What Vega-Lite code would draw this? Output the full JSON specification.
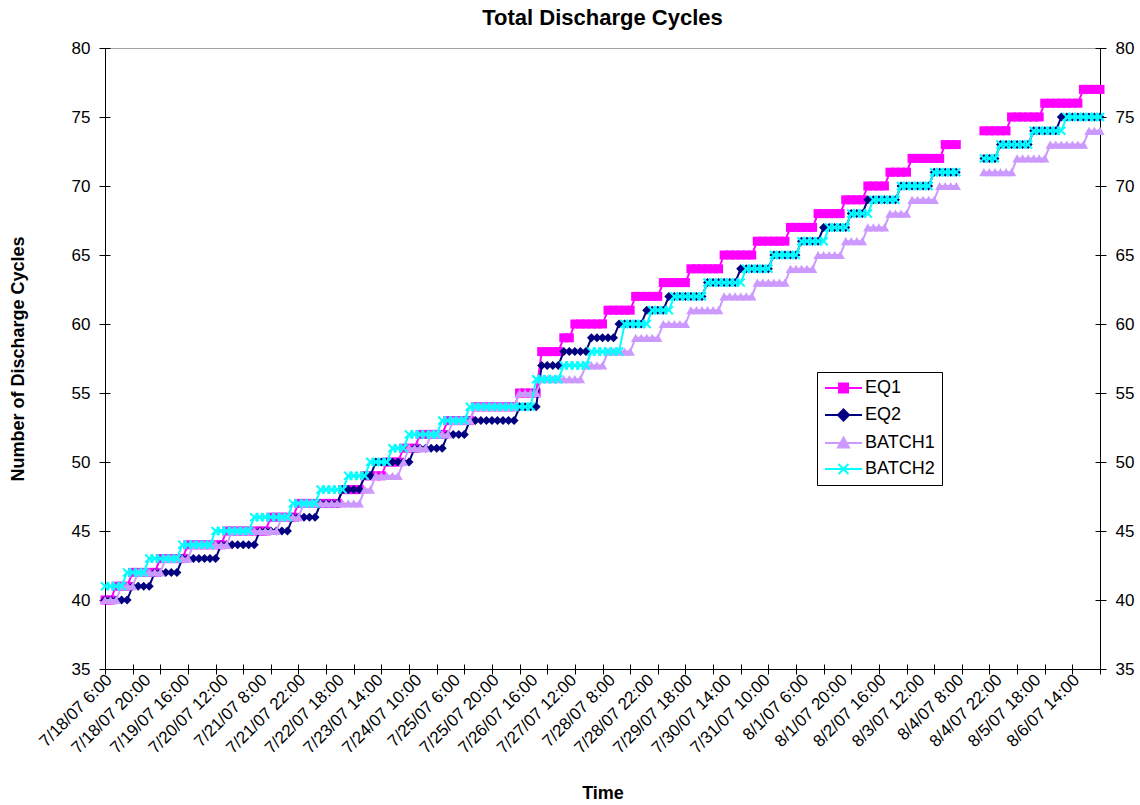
{
  "$schema": "https://vega.github.io/schema/vega-lite/v6.json",
  "width": 995,
  "height": 621,
  "autosize": {"type": "none"},
  "padding": {"left": 105, "top": 48, "right": 40, "bottom": 136},
  "background": "white",
  "title": {"text": "Total Discharge Cycles", "font": "Liberation Sans", "fontSize": 22, "fontWeight": "bold", "color": "#000", "anchor": "middle", "frame": "group", "offset": 9},
  "config": {
    "font": "Liberation Sans",
    "view": {"stroke": "#a0a0a0", "strokeWidth": 1},
    "mark": {"invalid": "break-paths-show-domains"},
    "axis": {"grid": false, "domainColor": "#000", "tickColor": "#000", "labelColor": "#000", "titleColor": "#000", "labelFont": "Liberation Sans", "titleFont": "Liberation Sans", "labelFontSize": 17, "titleFontSize": 18, "titleFontWeight": "bold", "domainWidth": 1, "tickWidth": 1},
    "legend": {"labelFont": "Liberation Sans", "labelFontSize": 18, "labelColor": "#000"}
  },
  "data": {"values": [
    {"t": "7/18/07 6:00", "EQ1": 40, "EQ2": 40, "BATCH1": 40, "BATCH2": 41},
    {"t": "7/18/07 8:00", "EQ1": 40, "EQ2": 40, "BATCH1": 40, "BATCH2": 41},
    {"t": "7/18/07 10:00", "EQ1": 41, "EQ2": 40, "BATCH1": 40, "BATCH2": 41},
    {"t": "7/18/07 12:00", "EQ1": 41, "EQ2": 40, "BATCH1": 41, "BATCH2": 41},
    {"t": "7/18/07 14:00", "EQ1": 41, "EQ2": 40, "BATCH1": 41, "BATCH2": 42},
    {"t": "7/18/07 16:00", "EQ1": 42, "EQ2": 41, "BATCH1": 41, "BATCH2": 42},
    {"t": "7/18/07 18:00", "EQ1": 42, "EQ2": 41, "BATCH1": 42, "BATCH2": 42},
    {"t": "7/18/07 20:00", "EQ1": 42, "EQ2": 41, "BATCH1": 42, "BATCH2": 42},
    {"t": "7/18/07 23:00", "EQ1": 42, "EQ2": 41, "BATCH1": 42, "BATCH2": 43},
    {"t": "7/19/07 2:00", "EQ1": 42, "EQ2": 42, "BATCH1": 42, "BATCH2": 43},
    {"t": "7/19/07 5:00", "EQ1": 43, "EQ2": 42, "BATCH1": 42, "BATCH2": 43},
    {"t": "7/19/07 8:00", "EQ1": 43, "EQ2": 42, "BATCH1": 43, "BATCH2": 43},
    {"t": "7/19/07 11:00", "EQ1": 43, "EQ2": 42, "BATCH1": 43, "BATCH2": 43},
    {"t": "7/19/07 14:00", "EQ1": 43, "EQ2": 42, "BATCH1": 43, "BATCH2": 43},
    {"t": "7/19/07 16:00", "EQ1": 43, "EQ2": 43, "BATCH1": 43, "BATCH2": 44},
    {"t": "7/19/07 19:00", "EQ1": 44, "EQ2": 43, "BATCH1": 43, "BATCH2": 44},
    {"t": "7/19/07 22:00", "EQ1": 44, "EQ2": 43, "BATCH1": 44, "BATCH2": 44},
    {"t": "7/20/07 1:00", "EQ1": 44, "EQ2": 43, "BATCH1": 44, "BATCH2": 44},
    {"t": "7/20/07 4:00", "EQ1": 44, "EQ2": 43, "BATCH1": 44, "BATCH2": 44},
    {"t": "7/20/07 7:00", "EQ1": 44, "EQ2": 43, "BATCH1": 44, "BATCH2": 44},
    {"t": "7/20/07 10:00", "EQ1": 44, "EQ2": 43, "BATCH1": 44, "BATCH2": 45},
    {"t": "7/20/07 12:00", "EQ1": 44, "EQ2": 44, "BATCH1": 44, "BATCH2": 45},
    {"t": "7/20/07 15:00", "EQ1": 45, "EQ2": 44, "BATCH1": 44, "BATCH2": 45},
    {"t": "7/20/07 18:00", "EQ1": 45, "EQ2": 44, "BATCH1": 45, "BATCH2": 45},
    {"t": "7/20/07 21:00", "EQ1": 45, "EQ2": 44, "BATCH1": 45, "BATCH2": 45},
    {"t": "7/21/07 0:00", "EQ1": 45, "EQ2": 44, "BATCH1": 45, "BATCH2": 45},
    {"t": "7/21/07 3:00", "EQ1": 45, "EQ2": 44, "BATCH1": 45, "BATCH2": 45},
    {"t": "7/21/07 6:00", "EQ1": 45, "EQ2": 44, "BATCH1": 45, "BATCH2": 46},
    {"t": "7/21/07 8:00", "EQ1": 45, "EQ2": 45, "BATCH1": 45, "BATCH2": 46},
    {"t": "7/21/07 10:00", "EQ1": 45, "EQ2": 45, "BATCH1": 45, "BATCH2": 46},
    {"t": "7/21/07 12:00", "EQ1": 46, "EQ2": 45, "BATCH1": 45, "BATCH2": 46},
    {"t": "7/21/07 14:00", "EQ1": 46, "EQ2": 45, "BATCH1": 45, "BATCH2": 46},
    {"t": "7/21/07 16:00", "EQ1": 46, "EQ2": 45, "BATCH1": 46, "BATCH2": 46},
    {"t": "7/21/07 18:00", "EQ1": 46, "EQ2": 45, "BATCH1": 46, "BATCH2": 46},
    {"t": "7/21/07 20:00", "EQ1": 46, "EQ2": 46, "BATCH1": 46, "BATCH2": 47},
    {"t": "7/21/07 22:00", "EQ1": 47, "EQ2": 46, "BATCH1": 46, "BATCH2": 47},
    {"t": "7/22/07 1:00", "EQ1": 47, "EQ2": 46, "BATCH1": 47, "BATCH2": 47},
    {"t": "7/22/07 4:00", "EQ1": 47, "EQ2": 46, "BATCH1": 47, "BATCH2": 47},
    {"t": "7/22/07 7:00", "EQ1": 47, "EQ2": 46, "BATCH1": 47, "BATCH2": 47},
    {"t": "7/22/07 10:00", "EQ1": 47, "EQ2": 47, "BATCH1": 47, "BATCH2": 48},
    {"t": "7/22/07 13:00", "EQ1": 47, "EQ2": 47, "BATCH1": 47, "BATCH2": 48},
    {"t": "7/22/07 16:00", "EQ1": 47, "EQ2": 47, "BATCH1": 47, "BATCH2": 48},
    {"t": "7/22/07 18:00", "EQ1": 47, "EQ2": 47, "BATCH1": 47, "BATCH2": 48},
    {"t": "7/22/07 21:00", "EQ1": 48, "EQ2": 48, "BATCH1": 47, "BATCH2": 48},
    {"t": "7/23/07 0:00", "EQ1": 48, "EQ2": 48, "BATCH1": 47, "BATCH2": 49},
    {"t": "7/23/07 3:00", "EQ1": 48, "EQ2": 48, "BATCH1": 47, "BATCH2": 49},
    {"t": "7/23/07 6:00", "EQ1": 48, "EQ2": 48, "BATCH1": 47, "BATCH2": 49},
    {"t": "7/23/07 9:00", "EQ1": 49, "EQ2": 49, "BATCH1": 48, "BATCH2": 49},
    {"t": "7/23/07 12:00", "EQ1": 49, "EQ2": 49, "BATCH1": 48, "BATCH2": 50},
    {"t": "7/23/07 14:00", "EQ1": 49, "EQ2": 50, "BATCH1": 49, "BATCH2": 50},
    {"t": "7/23/07 17:00", "EQ1": 49, "EQ2": 50, "BATCH1": 49, "BATCH2": 50},
    {"t": "7/23/07 20:00", "EQ1": 50, "EQ2": 50, "BATCH1": 49, "BATCH2": 50},
    {"t": "7/23/07 23:00", "EQ1": 50, "EQ2": 50, "BATCH1": 49, "BATCH2": 51},
    {"t": "7/24/07 2:00", "EQ1": 50, "EQ2": 50, "BATCH1": 49, "BATCH2": 51},
    {"t": "7/24/07 5:00", "EQ1": 51, "EQ2": 50, "BATCH1": 50, "BATCH2": 51},
    {"t": "7/24/07 8:00", "EQ1": 51, "EQ2": 50, "BATCH1": 51, "BATCH2": 52},
    {"t": "7/24/07 10:00", "EQ1": 51, "EQ2": 51, "BATCH1": 51, "BATCH2": 52},
    {"t": "7/24/07 13:00", "EQ1": 52, "EQ2": 51, "BATCH1": 51, "BATCH2": 52},
    {"t": "7/24/07 16:00", "EQ1": 52, "EQ2": 51, "BATCH1": 51, "BATCH2": 52},
    {"t": "7/24/07 19:00", "EQ1": 52, "EQ2": 51, "BATCH1": 52, "BATCH2": 52},
    {"t": "7/24/07 22:00", "EQ1": 52, "EQ2": 51, "BATCH1": 52, "BATCH2": 52},
    {"t": "7/25/07 1:00", "EQ1": 52, "EQ2": 51, "BATCH1": 52, "BATCH2": 53},
    {"t": "7/25/07 4:00", "EQ1": 53, "EQ2": 52, "BATCH1": 52, "BATCH2": 53},
    {"t": "7/25/07 6:00", "EQ1": 53, "EQ2": 52, "BATCH1": 53, "BATCH2": 53},
    {"t": "7/25/07 8:00", "EQ1": 53, "EQ2": 52, "BATCH1": 53, "BATCH2": 53},
    {"t": "7/25/07 10:00", "EQ1": 53, "EQ2": 52, "BATCH1": 53, "BATCH2": 53},
    {"t": "7/25/07 12:00", "EQ1": 53, "EQ2": 53, "BATCH1": 53, "BATCH2": 54},
    {"t": "7/25/07 14:00", "EQ1": 54, "EQ2": 53, "BATCH1": 54, "BATCH2": 54},
    {"t": "7/25/07 16:00", "EQ1": 54, "EQ2": 53, "BATCH1": 54, "BATCH2": 54},
    {"t": "7/25/07 18:00", "EQ1": 54, "EQ2": 53, "BATCH1": 54, "BATCH2": 54},
    {"t": "7/25/07 20:00", "EQ1": 54, "EQ2": 53, "BATCH1": 54, "BATCH2": 54},
    {"t": "7/25/07 23:00", "EQ1": 54, "EQ2": 53, "BATCH1": 54, "BATCH2": 54},
    {"t": "7/26/07 2:00", "EQ1": 54, "EQ2": 53, "BATCH1": 54, "BATCH2": 54},
    {"t": "7/26/07 5:00", "EQ1": 54, "EQ2": 53, "BATCH1": 54, "BATCH2": 54},
    {"t": "7/26/07 8:00", "EQ1": 54, "EQ2": 53, "BATCH1": 54, "BATCH2": 54},
    {"t": "7/26/07 11:00", "EQ1": 55, "EQ2": 54, "BATCH1": 55, "BATCH2": 54},
    {"t": "7/26/07 14:00", "EQ1": 55, "EQ2": 54, "BATCH1": 55, "BATCH2": 54},
    {"t": "7/26/07 16:00", "EQ1": 55, "EQ2": 54, "BATCH1": 55, "BATCH2": 54},
    {"t": "7/26/07 19:00", "EQ1": 55, "EQ2": 54, "BATCH1": 55, "BATCH2": 56},
    {"t": "7/26/07 22:00", "EQ1": 58, "EQ2": 57, "BATCH1": 56, "BATCH2": 56},
    {"t": "7/27/07 1:00", "EQ1": 58, "EQ2": 57, "BATCH1": 56, "BATCH2": 56},
    {"t": "7/27/07 4:00", "EQ1": 58, "EQ2": 57, "BATCH1": 56, "BATCH2": 56},
    {"t": "7/27/07 7:00", "EQ1": 58, "EQ2": 57, "BATCH1": 56, "BATCH2": 56},
    {"t": "7/27/07 10:00", "EQ1": 59, "EQ2": 58, "BATCH1": 56, "BATCH2": 57},
    {"t": "7/27/07 12:00", "EQ1": 59, "EQ2": 58, "BATCH1": 56, "BATCH2": 57},
    {"t": "7/27/07 15:00", "EQ1": 60, "EQ2": 58, "BATCH1": 56, "BATCH2": 57},
    {"t": "7/27/07 18:00", "EQ1": 60, "EQ2": 58, "BATCH1": 56, "BATCH2": 57},
    {"t": "7/27/07 21:00", "EQ1": 60, "EQ2": 58, "BATCH1": 57, "BATCH2": 57},
    {"t": "7/28/07 0:00", "EQ1": 60, "EQ2": 59, "BATCH1": 57, "BATCH2": 58},
    {"t": "7/28/07 3:00", "EQ1": 60, "EQ2": 59, "BATCH1": 57, "BATCH2": 58},
    {"t": "7/28/07 6:00", "EQ1": 60, "EQ2": 59, "BATCH1": 57, "BATCH2": 58},
    {"t": "7/28/07 8:00", "EQ1": 61, "EQ2": 59, "BATCH1": 58, "BATCH2": 58},
    {"t": "7/28/07 10:00", "EQ1": 61, "EQ2": 59, "BATCH1": 58, "BATCH2": 58},
    {"t": "7/28/07 12:00", "EQ1": 61, "EQ2": 60, "BATCH1": 58, "BATCH2": 58},
    {"t": "7/28/07 14:00", "EQ1": 61, "EQ2": 60, "BATCH1": 58, "BATCH2": 60},
    {"t": "7/28/07 16:00", "EQ1": 61, "EQ2": 60, "BATCH1": 58, "BATCH2": 60},
    {"t": "7/28/07 18:00", "EQ1": 62, "EQ2": 60, "BATCH1": 59, "BATCH2": 60},
    {"t": "7/28/07 20:00", "EQ1": 62, "EQ2": 60, "BATCH1": 59, "BATCH2": 60},
    {"t": "7/28/07 22:00", "EQ1": 62, "EQ2": 61, "BATCH1": 59, "BATCH2": 60},
    {"t": "7/29/07 1:00", "EQ1": 62, "EQ2": 61, "BATCH1": 59, "BATCH2": 61},
    {"t": "7/29/07 4:00", "EQ1": 62, "EQ2": 61, "BATCH1": 59, "BATCH2": 61},
    {"t": "7/29/07 7:00", "EQ1": 63, "EQ2": 61, "BATCH1": 60, "BATCH2": 61},
    {"t": "7/29/07 10:00", "EQ1": 63, "EQ2": 62, "BATCH1": 60, "BATCH2": 61},
    {"t": "7/29/07 13:00", "EQ1": 63, "EQ2": 62, "BATCH1": 60, "BATCH2": 62},
    {"t": "7/29/07 16:00", "EQ1": 63, "EQ2": 62, "BATCH1": 60, "BATCH2": 62},
    {"t": "7/29/07 18:00", "EQ1": 63, "EQ2": 62, "BATCH1": 60, "BATCH2": 62},
    {"t": "7/29/07 21:00", "EQ1": 64, "EQ2": 62, "BATCH1": 61, "BATCH2": 62},
    {"t": "7/30/07 0:00", "EQ1": 64, "EQ2": 62, "BATCH1": 61, "BATCH2": 62},
    {"t": "7/30/07 3:00", "EQ1": 64, "EQ2": 62, "BATCH1": 61, "BATCH2": 62},
    {"t": "7/30/07 6:00", "EQ1": 64, "EQ2": 63, "BATCH1": 61, "BATCH2": 63},
    {"t": "7/30/07 9:00", "EQ1": 64, "EQ2": 63, "BATCH1": 61, "BATCH2": 63},
    {"t": "7/30/07 12:00", "EQ1": 64, "EQ2": 63, "BATCH1": 61, "BATCH2": 63},
    {"t": "7/30/07 14:00", "EQ1": 65, "EQ2": 63, "BATCH1": 62, "BATCH2": 63},
    {"t": "7/30/07 17:00", "EQ1": 65, "EQ2": 63, "BATCH1": 62, "BATCH2": 63},
    {"t": "7/30/07 20:00", "EQ1": 65, "EQ2": 63, "BATCH1": 62, "BATCH2": 63},
    {"t": "7/30/07 23:00", "EQ1": 65, "EQ2": 64, "BATCH1": 62, "BATCH2": 63},
    {"t": "7/31/07 2:00", "EQ1": 65, "EQ2": 64, "BATCH1": 62, "BATCH2": 64},
    {"t": "7/31/07 5:00", "EQ1": 65, "EQ2": 64, "BATCH1": 62, "BATCH2": 64},
    {"t": "7/31/07 8:00", "EQ1": 66, "EQ2": 64, "BATCH1": 63, "BATCH2": 64},
    {"t": "7/31/07 10:00", "EQ1": 66, "EQ2": 64, "BATCH1": 63, "BATCH2": 64},
    {"t": "7/31/07 13:00", "EQ1": 66, "EQ2": 64, "BATCH1": 63, "BATCH2": 64},
    {"t": "7/31/07 16:00", "EQ1": 66, "EQ2": 65, "BATCH1": 63, "BATCH2": 65},
    {"t": "7/31/07 19:00", "EQ1": 66, "EQ2": 65, "BATCH1": 63, "BATCH2": 65},
    {"t": "7/31/07 22:00", "EQ1": 66, "EQ2": 65, "BATCH1": 63, "BATCH2": 65},
    {"t": "8/1/07 1:00", "EQ1": 67, "EQ2": 65, "BATCH1": 64, "BATCH2": 65},
    {"t": "8/1/07 4:00", "EQ1": 67, "EQ2": 65, "BATCH1": 64, "BATCH2": 65},
    {"t": "8/1/07 6:00", "EQ1": 67, "EQ2": 66, "BATCH1": 64, "BATCH2": 66},
    {"t": "8/1/07 8:00", "EQ1": 67, "EQ2": 66, "BATCH1": 64, "BATCH2": 66},
    {"t": "8/1/07 10:00", "EQ1": 67, "EQ2": 66, "BATCH1": 64, "BATCH2": 66},
    {"t": "8/1/07 12:00", "EQ1": 68, "EQ2": 66, "BATCH1": 65, "BATCH2": 66},
    {"t": "8/1/07 14:00", "EQ1": 68, "EQ2": 67, "BATCH1": 65, "BATCH2": 66},
    {"t": "8/1/07 16:00", "EQ1": 68, "EQ2": 67, "BATCH1": 65, "BATCH2": 67},
    {"t": "8/1/07 18:00", "EQ1": 68, "EQ2": 67, "BATCH1": 65, "BATCH2": 67},
    {"t": "8/1/07 20:00", "EQ1": 68, "EQ2": 67, "BATCH1": 65, "BATCH2": 67},
    {"t": "8/1/07 23:00", "EQ1": 69, "EQ2": 67, "BATCH1": 66, "BATCH2": 67},
    {"t": "8/2/07 2:00", "EQ1": 69, "EQ2": 68, "BATCH1": 66, "BATCH2": 68},
    {"t": "8/2/07 5:00", "EQ1": 69, "EQ2": 68, "BATCH1": 66, "BATCH2": 68},
    {"t": "8/2/07 8:00", "EQ1": 69, "EQ2": 68, "BATCH1": 66, "BATCH2": 68},
    {"t": "8/2/07 11:00", "EQ1": 70, "EQ2": 69, "BATCH1": 67, "BATCH2": 68},
    {"t": "8/2/07 14:00", "EQ1": 70, "EQ2": 69, "BATCH1": 67, "BATCH2": 69},
    {"t": "8/2/07 16:00", "EQ1": 70, "EQ2": 69, "BATCH1": 67, "BATCH2": 69},
    {"t": "8/2/07 19:00", "EQ1": 70, "EQ2": 69, "BATCH1": 67, "BATCH2": 69},
    {"t": "8/2/07 22:00", "EQ1": 71, "EQ2": 69, "BATCH1": 68, "BATCH2": 69},
    {"t": "8/3/07 1:00", "EQ1": 71, "EQ2": 69, "BATCH1": 68, "BATCH2": 69},
    {"t": "8/3/07 4:00", "EQ1": 71, "EQ2": 70, "BATCH1": 68, "BATCH2": 70},
    {"t": "8/3/07 7:00", "EQ1": 71, "EQ2": 70, "BATCH1": 68, "BATCH2": 70},
    {"t": "8/3/07 10:00", "EQ1": 72, "EQ2": 70, "BATCH1": 69, "BATCH2": 70},
    {"t": "8/3/07 12:00", "EQ1": 72, "EQ2": 70, "BATCH1": 69, "BATCH2": 70},
    {"t": "8/3/07 15:00", "EQ1": 72, "EQ2": 70, "BATCH1": 69, "BATCH2": 70},
    {"t": "8/3/07 18:00", "EQ1": 72, "EQ2": 70, "BATCH1": 69, "BATCH2": 70},
    {"t": "8/3/07 21:00", "EQ1": 72, "EQ2": 71, "BATCH1": 69, "BATCH2": 71},
    {"t": "8/4/07 0:00", "EQ1": 72, "EQ2": 71, "BATCH1": 70, "BATCH2": 71},
    {"t": "8/4/07 3:00", "EQ1": 73, "EQ2": 71, "BATCH1": 70, "BATCH2": 71},
    {"t": "8/4/07 6:00", "EQ1": 73, "EQ2": 71, "BATCH1": 70, "BATCH2": 71},
    {"t": "8/4/07 8:00", "EQ1": 73, "EQ2": 71, "BATCH1": 70, "BATCH2": 71},
    {"t": "8/4/07 10:00", "EQ1": null, "EQ2": null, "BATCH1": null, "BATCH2": null},
    {"t": "8/4/07 12:00", "EQ1": null, "EQ2": null, "BATCH1": null, "BATCH2": null},
    {"t": "8/4/07 14:00", "EQ1": null, "EQ2": null, "BATCH1": null, "BATCH2": null},
    {"t": "8/4/07 16:00", "EQ1": null, "EQ2": null, "BATCH1": null, "BATCH2": null},
    {"t": "8/4/07 18:00", "EQ1": 74, "EQ2": 72, "BATCH1": 71, "BATCH2": 72},
    {"t": "8/4/07 20:00", "EQ1": 74, "EQ2": 72, "BATCH1": 71, "BATCH2": 72},
    {"t": "8/4/07 22:00", "EQ1": 74, "EQ2": 72, "BATCH1": 71, "BATCH2": 72},
    {"t": "8/5/07 1:00", "EQ1": 74, "EQ2": 73, "BATCH1": 71, "BATCH2": 73},
    {"t": "8/5/07 4:00", "EQ1": 74, "EQ2": 73, "BATCH1": 71, "BATCH2": 73},
    {"t": "8/5/07 7:00", "EQ1": 75, "EQ2": 73, "BATCH1": 71, "BATCH2": 73},
    {"t": "8/5/07 10:00", "EQ1": 75, "EQ2": 73, "BATCH1": 72, "BATCH2": 73},
    {"t": "8/5/07 13:00", "EQ1": 75, "EQ2": 73, "BATCH1": 72, "BATCH2": 73},
    {"t": "8/5/07 16:00", "EQ1": 75, "EQ2": 73, "BATCH1": 72, "BATCH2": 73},
    {"t": "8/5/07 18:00", "EQ1": 75, "EQ2": 74, "BATCH1": 72, "BATCH2": 74},
    {"t": "8/5/07 21:00", "EQ1": 75, "EQ2": 74, "BATCH1": 72, "BATCH2": 74},
    {"t": "8/6/07 0:00", "EQ1": 76, "EQ2": 74, "BATCH1": 72, "BATCH2": 74},
    {"t": "8/6/07 3:00", "EQ1": 76, "EQ2": 74, "BATCH1": 73, "BATCH2": 74},
    {"t": "8/6/07 6:00", "EQ1": 76, "EQ2": 74, "BATCH1": 73, "BATCH2": 74},
    {"t": "8/6/07 9:00", "EQ1": 76, "EQ2": 75, "BATCH1": 73, "BATCH2": 74},
    {"t": "8/6/07 12:00", "EQ1": 76, "EQ2": 75, "BATCH1": 73, "BATCH2": 75},
    {"t": "8/6/07 14:00", "EQ1": 76, "EQ2": 75, "BATCH1": 73, "BATCH2": 75},
    {"t": "8/6/07 17:00", "EQ1": 76, "EQ2": 75, "BATCH1": 73, "BATCH2": 75},
    {"t": "8/6/07 20:00", "EQ1": 77, "EQ2": 75, "BATCH1": 73, "BATCH2": 75},
    {"t": "8/6/07 23:00", "EQ1": 77, "EQ2": 75, "BATCH1": 74, "BATCH2": 75},
    {"t": "8/7/07 2:00", "EQ1": 77, "EQ2": 75, "BATCH1": 74, "BATCH2": 75},
    {"t": "8/7/07 5:00", "EQ1": 77, "EQ2": 75, "BATCH1": 74, "BATCH2": 75}
  ]},
  "resolve": {"axis": {"x": "independent", "y": "independent"}},
  "layer": [
    {
      "mark": {"type": "line", "strokeWidth": 2},
      "encoding": {
        "x": {"field": "t", "type": "ordinal", "sort": null, "scale": {"type": "point", "padding": 0},
          "axis": {"orient": "bottom", "title": "Time", "titlePadding": 28, "ticks": false, "labelAngle": -45, "labelAlign": "right", "labelBaseline": "middle", "labelPadding": 8, "labelOffset": 4, "labelOverlap": false,
            "values": ["7/18/07 6:00", "7/18/07 20:00", "7/19/07 16:00", "7/20/07 12:00", "7/21/07 8:00", "7/21/07 22:00", "7/22/07 18:00", "7/23/07 14:00", "7/24/07 10:00", "7/25/07 6:00", "7/25/07 20:00", "7/26/07 16:00", "7/27/07 12:00", "7/28/07 8:00", "7/28/07 22:00", "7/29/07 18:00", "7/30/07 14:00", "7/31/07 10:00", "8/1/07 6:00", "8/1/07 20:00", "8/2/07 16:00", "8/3/07 12:00", "8/4/07 8:00", "8/4/07 22:00", "8/5/07 18:00", "8/6/07 14:00"]}},
        "y": {"field": "EQ1", "type": "quantitative", "scale": {"domain": [35, 80], "nice": false, "zero": false},
          "axis": {"orient": "left", "title": "Number of Discharge Cycles", "titlePadding": 44, "domain": false, "offset": -5, "tickSize": 11, "labelPadding": 9, "values": [35, 40, 45, 50, 55, 60, 65, 70, 75, 80]}},
        "color": {"datum": "EQ1", "type": "nominal",
          "scale": {"domain": ["EQ1", "EQ2", "BATCH1", "BATCH2"], "range": ["#FF00FF", "#000080", "#CC99FF", "#00FFFF"]},
          "legend": {"title": null, "orient": "none", "legendX": 712, "legendY": 324, "strokeColor": "#000", "fillColor": "#fff", "padding": 7, "rowPadding": 8, "symbolSize": 100, "symbolOffset": 10.5, "labelOffset": 12.5,
            "encode": {"symbols": {"update": {
              "fill": {"scale": "color", "field": "value"},
              "stroke": {"scale": "color", "field": "value"},
              "strokeWidth": {"value": 2},
              "opacity": {"value": 1},
              "size": {"value": 100},
              "shape": {"signal": "datum.value === 'EQ1' ? 'M-3.7,0H3.7M-0.9,-0.9H0.9V0.9H-0.9Z' : datum.value === 'EQ2' ? 'M-3.7,0H3.7M0,-1.1L1.1,0L0,1.1L-1.1,0Z' : datum.value === 'BATCH1' ? 'M-3.7,0H3.7M0,-1.1L1.1,0.9H-1.1Z' : 'M-3.7,0H3.7M-1,-1L1,1M-1,1L1,-1'"}
            }}}}
        }
      }
    },
    {
      "mark": {"type": "point", "filled": true, "shape": "square", "size": 81, "opacity": 1},
      "encoding": {
        "x": {"field": "t", "type": "ordinal", "sort": null,
          "axis": {"orient": "bottom", "title": null, "labels": false, "domain": false, "offset": -5, "tickSize": 10,
            "values": ["7/18/07 6:00", "7/18/07 16:00", "7/19/07 5:00", "7/19/07 19:00", "7/20/07 10:00", "7/21/07 0:00", "7/21/07 12:00", "7/21/07 22:00", "7/22/07 13:00", "7/23/07 3:00", "7/23/07 17:00", "7/24/07 8:00", "7/24/07 22:00", "7/25/07 10:00", "7/25/07 20:00", "7/26/07 11:00", "7/27/07 1:00", "7/27/07 15:00", "7/28/07 6:00", "7/28/07 16:00", "7/29/07 4:00", "7/29/07 18:00", "7/30/07 9:00", "7/30/07 23:00", "7/31/07 13:00", "8/1/07 4:00", "8/1/07 14:00", "8/2/07 2:00", "8/2/07 16:00", "8/3/07 7:00", "8/3/07 21:00", "8/4/07 10:00", "8/4/07 20:00", "8/5/07 10:00", "8/6/07 0:00", "8/6/07 14:00", "8/7/07 5:00"]}},
        "y": {"field": "EQ1", "type": "quantitative", "axis": {"orient": "left", "title": null, "labels": false, "ticks": false, "domain": true}},
        "color": {"datum": "EQ1", "type": "nominal"}
      }
    },
    {
      "mark": {"type": "line", "strokeWidth": 2},
      "encoding": {
        "x": {"field": "t", "type": "ordinal", "sort": null, "axis": null},
        "y": {"field": "EQ2", "type": "quantitative", "axis": {"orient": "right", "title": null, "domain": false, "offset": -5, "tickSize": 11, "labelPadding": 9, "values": [35, 40, 45, 50, 55, 60, 65, 70, 75, 80]}},
        "color": {"datum": "EQ2", "type": "nominal"}
      }
    },
    {
      "mark": {"type": "point", "filled": true, "shape": "diamond", "size": 81, "opacity": 1},
      "encoding": {
        "x": {"field": "t", "type": "ordinal", "sort": null, "axis": null},
        "y": {"field": "EQ2", "type": "quantitative", "axis": {"orient": "right", "title": null, "labels": false, "ticks": false, "domain": true}},
        "color": {"datum": "EQ2", "type": "nominal"}
      }
    },
    {
      "mark": {"type": "line", "strokeWidth": 2},
      "encoding": {
        "x": {"field": "t", "type": "ordinal", "sort": null, "axis": null},
        "y": {"field": "BATCH1", "type": "quantitative", "axis": null},
        "color": {"datum": "BATCH1", "type": "nominal"}
      }
    },
    {
      "mark": {"type": "point", "filled": true, "shape": "triangle-up", "size": 90, "opacity": 1},
      "encoding": {
        "x": {"field": "t", "type": "ordinal", "sort": null, "axis": null},
        "y": {"field": "BATCH1", "type": "quantitative", "axis": null},
        "color": {"datum": "BATCH1", "type": "nominal"}
      }
    },
    {
      "mark": {"type": "line", "strokeWidth": 2},
      "encoding": {
        "x": {"field": "t", "type": "ordinal", "sort": null, "axis": null},
        "y": {"field": "BATCH2", "type": "quantitative", "axis": null},
        "color": {"datum": "BATCH2", "type": "nominal"}
      }
    },
    {
      "mark": {"type": "point", "filled": true, "shape": "M-1,-0.7L-0.7,-1L0,-0.3L0.7,-1L1,-0.7L0.3,0L1,0.7L0.7,1L0,0.3L-0.7,1L-1,0.7L-0.3,0Z", "size": 90, "opacity": 1},
      "encoding": {
        "x": {"field": "t", "type": "ordinal", "sort": null, "axis": null},
        "y": {"field": "BATCH2", "type": "quantitative", "axis": null},
        "color": {"datum": "BATCH2", "type": "nominal"}
      }
    }
  ]
}
